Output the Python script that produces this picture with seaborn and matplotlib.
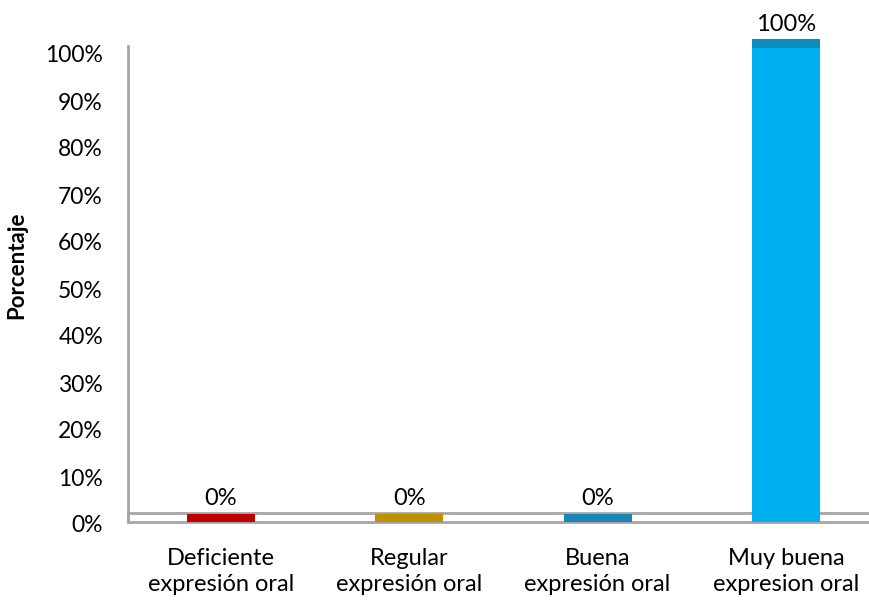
import seaborn as sns
import matplotlib.pyplot as plt
from matplotlib.patches import Rectangle

# data
categories = ["Deficiente\nexpresión oral", "Regular\nexpresión oral",
              "Buena\nexpresión oral", "Muy buena\nexpresion oral"]
values = [0, 0, 0, 100]
value_labels = ["0%", "0%", "0%", "100%"]
yticks = [0, 10, 20, 30, 40, 50, 60, 70, 80, 90, 100]
ytick_labels = [f"{t}%" for t in yticks]

bar_colors = ["#C00000", "#BF9000", "#1A86B8", "#00B0F0"]
cap_colors = ["#C00000", "#BF9000", "#1A86B8", "#0A8CBE"]

sns.set_theme(style="white")
plt.rcParams["font.family"] = ["Lato", "DejaVu Sans"]

fig = plt.figure(figsize=(8.7, 6), dpi=100)
ax = fig.add_axes([128 / 870, 76 / 600, 742 / 870, 517 / 600])

floor_lo, floor_hi = 0.4, 2.3
gray = "#A6A6A6"
xmin, xmax = -0.494, -0.494 + 742 / 188.3

# floor of the 3d chart
ax.add_patch(Rectangle((xmin, floor_lo), xmax - xmin, floor_hi - floor_lo,
                       facecolor="white", edgecolor=gray, lw=2, zorder=1,
                       clip_on=False))

body = [v * 1.009 for v in values]
sns.barplot(x=categories, y=body, hue=categories, palette=bar_colors,
            legend=False, width=0.36, bottom=floor_lo, ax=ax, saturation=1,
            linewidth=0, zorder=2)
caps = ax.bar(range(len(values)), [1.8] * len(values), width=0.36,
              bottom=[floor_lo + b for b in body], color=cap_colors,
              linewidth=0, zorder=3)
ax.bar_label(caps, labels=value_labels, padding=3.5, fontsize=17, color="black")

ax.set_xlim(xmin, xmax)
ax.set_ylim(0, 110)
ax.set_yticks(yticks)
ax.set_yticklabels(ytick_labels)
ax.tick_params(axis="y", length=0, pad=18, labelsize=16.5, colors="black")
ax.tick_params(axis="x", length=0, pad=17, labelsize=17, colors="black")
for lab in ax.get_xticklabels():
    lab.set_linespacing(1.3)

for s in ["top", "right", "bottom"]:
    ax.spines[s].set_visible(False)
ax.spines["left"].set_color(gray)
ax.spines["left"].set_linewidth(2)
ax.spines["left"].set_bounds(1.1, 101.7)

ax.set_ylabel("Porcentaje", fontsize=16, fontweight="bold", color="black")
ax.yaxis.set_label_coords(-101 / 742, 0.5)
ax.set_xlabel("")

fig.savefig("out.png", dpi=100)
